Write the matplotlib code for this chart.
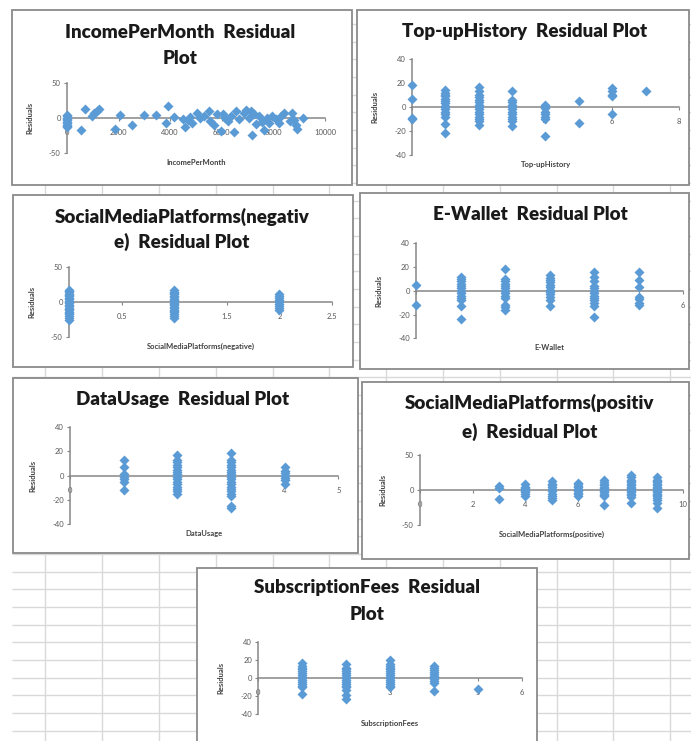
import numpy as np
import matplotlib
matplotlib.use('Agg')
import matplotlib.pyplot as plt
from matplotlib.patches import Rectangle
from matplotlib.ticker import FuncFormatter

plt.rcParams['axes.unicode_minus'] = False
plt.rcParams['font.family'] = ['Lato', 'DejaVu Sans']

# ---- data ----
income_x = [0, 0, 0, 0, 0, 0, 0, 0, 0, 0,
            540, 700, 960, 1060, 1150, 1240, 1860, 2050, 2510, 2990, 3450,
            3850, 3930, 4150, 4490, 4590, 4700, 4750, 4840, 5040, 5170, 5300,
            5490, 5560, 5690, 5820, 5950, 6060, 6140, 6250, 6340, 6470, 6550,
            6660, 6860, 6950, 7050, 7150, 7180, 7250, 7310, 7440, 7550, 7630,
            7760, 7830, 7960, 8090, 8200, 8280, 8400, 8650, 8730, 8800, 8860,
            8930, 9150]
income_res = [5, 3, 1, -1, -3, -5, -7, -9, -11, -13,
              -17, 14, 3, 7, 10, 14, -15, 5, -10, 5, 5,
              -6, 18, 2, -1, -12, -3, 2, -6, 8, 0, 4,
              10, -4, -10, 6, -18, 6, 1, -4, 3, -20, 10,
              -1, 8, 12, 1, 11, -24, 6, -8, 3, -5, -17,
              1, -6, 4, -1, -7, 3, 7, -4, 7, -2, -10,
              -15, 1]

topup_levels = [0, 1, 2, 3, 4, 5, 6, 7]
topup_res = [[18, 7, -9, -10],
             [14, 12, 10, 9, 7, 5, 3, 1, 0, -2, -4, -6, -8, -14, -22],
             [17, 13, 10, 8, 6, 4, 2, 0, -2, -4, -6, -8, -10, -12, -15],
             [13, 6, 4, 2, 0, -2, -4, -6, -8, -10, -12, -16],
             [2, 0, -1, -4, -6, -8, -10, -24],
             [5, -13],
             [16, 13, 10, 9, -6],
             [13]]

smneg_levels = [0, 1, 2]
smneg_res = [[18, 16, 14, 12, 10, 8, 6, 4, 2, 0, -2, -4, -6, -8, -10, -12,
              -14, -16, -18, -20, -23, -26],
             [17, 15, 13, 11, 9, 7, 5, 3, 1, -1, -3, -5, -7, -9, -11, -13,
              -15, -17, -20, -23],
             [12, 9, 6, 3, 0, -3, -6, -9, -11]]

ewallet_levels = [0, 1, 2, 3, 4, 5]
ewallet_res = [[5, -12],
               [12, 10, 8, 6, 4, 2, 0, -2, -4, -6, -8, -13, -24],
               [18, 10, 8, 6, 4, 2, 0, -2, -4, -6, -12, -14, -16],
               [13, 11, 9, 7, 5, 3, 1, -1, -3, -5, -8, -13],
               [16, 12, 8, 4, 2, 0, -2, -4, -6, -8, -10, -13, -22],
               [16, 9, 3, -5, -7, -10, -12]]

data_levels = [1, 2, 3, 4]
data_res = [[13, 7, 1, -1, -3, -5, -12],
            [17, 13, 11, 9, 7, 5, 3, 1, -1, -3, -5, -7, -9, -11, -13, -15],
            [19, 13, 11, 9, 7, 5, 3, 1, -1, -3, -5, -7, -9, -11, -13, -15,
             -17, -25, -27],
            [7, 4, 2, 0, -2, -4, -7]]

smpos_levels = [3, 4, 5, 6, 7, 8, 9]
smpos_res = [[6, 3, -13],
             [8, 5, 3, 1, -1, -3, -5, -9],
             [13, 9, 7, 4, 1, -2, -5, -8, -11, -14],
             [10, 8, 6, 4, 2, 0, -2, -4, -6, -9],
             [14, 11, 9, 7, 5, 3, 1, -1, -3, -5, -7, -9, -21],
             [21, 18, 15, 13, 11, 9, 7, 5, 3, 1, -1, -3, -5, -7, -10, -19],
             [18, 15, 13, 11, 9, 7, 5, 3, 1, -1, -3, -5, -7, -9, -11, -14,
              -18, -26]]

subs_levels = [1, 2, 3, 4, 5]
subs_res = [[17, 14, 12, 10, 8, 6, 4, 2, 0, -2, -4, -6, -8, -10, -17],
            [16, 12, 10, 8, 6, 4, 2, 0, -2, -4, -6, -8, -10, -13, -18, -23],
            [20, 16, 14, 12, 10, 8, 6, 4, 2, 0, -2, -4, -6, -8, -10],
            [14, 11, 9, 7, 5, 3, 1, -1, -3, -5, -14],
            [-12]]


def stack(levels, groups):
    xs, ys = [], []
    for lv, g in zip(levels, groups):
        xs += [lv] * len(g)
        ys += g
    return xs, ys


W, H = 691, 741
fig = plt.figure(figsize=(W / 100, H / 100), dpi=100)
bg = fig.add_axes([0, 0, 1, 1])
bg.set_xlim(0, W)
bg.set_ylim(H, 0)
bg.axis('off')

# spreadsheet cells behind the charts
bg.vlines(np.arange(45.5, W, 56.8), 10, H, color='#d9d9d9', lw=1.0, zorder=0)
rows = np.arange(571.7 - 17.67 * 31, H, 17.67)
bg.hlines(rows[rows > 10], 12, W, color='#d9d9d9', lw=1.0, zorder=0)

fmt = FuncFormatter(lambda v, p: '{:g}'.format(v))


def panel(box, title, title_x, title_y, area, xs, ys, xlim, xticks, ylim, yticks, xlabel):
    x0, y0, x1, y1 = box
    bg.add_patch(Rectangle((x0, y0), x1 - x0, y1 - y0, facecolor='white',
                           edgecolor='#8a8a8a', lw=1.3, zorder=2))
    for line, ty in zip(title, title_y):
        bg.text(title_x, ty, line, ha='center', va='center', fontsize=13.5,
                fontweight='heavy', color='#1a1a1a', zorder=3)
    left, top, right, bottom = area
    ax = fig.add_axes([left / W, 1 - bottom / H, (right - left) / W, (bottom - top) / H])
    ax.patch.set_alpha(0)
    ax.plot(xs, ys, 'D', ms=5, color='#5B9BD5', mec='none', clip_on=False, zorder=3)
    ax.set_xlim(xlim)
    ax.set_ylim(ylim)
    ax.set_xticks(xticks)
    ax.set_yticks(yticks)
    ax.xaxis.set_major_formatter(fmt)
    ax.yaxis.set_major_formatter(fmt)
    for s in ['top', 'right']:
        ax.spines[s].set_visible(False)
    ax.spines['bottom'].set_position(('data', 0))
    for s in ['bottom', 'left']:
        ax.spines[s].set_color('#868686')
        ax.spines[s].set_linewidth(1.1)
    ax.tick_params(length=2.5, width=0.8, color='#868686', labelsize=5.5,
                   labelcolor='#595959', pad=2)
    ax.tick_params(axis='x', pad=5.5)
    bg.text((left + right) / 2, bottom + 9.5, xlabel, ha='center', va='center',
            fontsize=5.5, fontweight='bold', color='#404040', zorder=3)
    bg.text(left - 37, (top + bottom) / 2, 'Residuals', ha='center', va='center',
            rotation=90, fontsize=5.5, fontweight='bold', color='#404040', zorder=3)
    return ax


panel((12, 10, 352, 185), ['IncomePerMonth  Residual', 'Plot'], 180, [32, 58],
      (67, 83.3, 325, 153.3), income_x, income_res, (0, 10000),
      [0, 2000, 4000, 6000, 8000, 10000], (-50, 50), [-50, 0, 50], 'IncomePerMonth')

xs, ys = stack(topup_levels, topup_res)
panel((357, 10, 689, 185), ['Top-upHistory  Residual Plot'], 525, [32],
      (412, 59, 679, 155), xs, ys, (0, 8), [0, 2, 4, 6, 8], (-40, 40),
      [-40, -20, 0, 20, 40], 'Top-upHistory')

xs, ys = stack(smneg_levels, smneg_res)
panel((13, 195, 353, 367), ['SocialMediaPlatforms(negativ', 'e)  Residual Plot'], 182,
      [216.7, 242], (69, 267.3, 332, 336.7), xs, ys, (0, 2.5),
      [0, 0.5, 1, 1.5, 2, 2.5], (-50, 50), [-50, 0, 50], 'SocialMediaPlatforms(negative)')

xs, ys = stack(ewallet_levels, ewallet_res)
panel((360, 193, 689, 369), ['E-Wallet  Residual Plot'], 530, [215],
      (416, 243.3, 683, 338.3), xs, ys, (0, 6), [0, 1, 2, 3, 4, 5, 6], (-40, 40),
      [-40, -20, 0, 20, 40], 'E-Wallet')

xs, ys = stack(data_levels, data_res)
panel((13, 378, 358, 553), ['DataUsage  Residual Plot'], 183, [400],
      (70, 427.3, 338.3, 524), xs, ys, (0, 5), [0, 1, 2, 3, 4, 5], (-40, 40),
      [-40, -20, 0, 20, 40], 'DataUsage')

xs, ys = stack(smpos_levels, smpos_res)
panel((362, 382, 689, 559), ['SocialMediaPlatforms(positiv', 'e)  Residual Plot'], 530,
      [403, 432], (420, 455, 683.3, 525), xs, ys, (0, 10), [0, 2, 4, 6, 8, 10],
      (-50, 50), [-50, 0, 50], 'SocialMediaPlatforms(positive)')

xs, ys = stack(subs_levels, subs_res)
panel((197, 567.7, 537, 750), ['SubscriptionFees  Residual', 'Plot'], 367, [588, 615],
      (258.3, 642.3, 521.7, 714.3), xs, ys, (0, 6), [0, 1, 2, 3, 4, 5, 6], (-40, 40),
      [-40, -20, 0, 20, 40], 'SubscriptionFees')

fig.savefig('out.png', dpi=100)
